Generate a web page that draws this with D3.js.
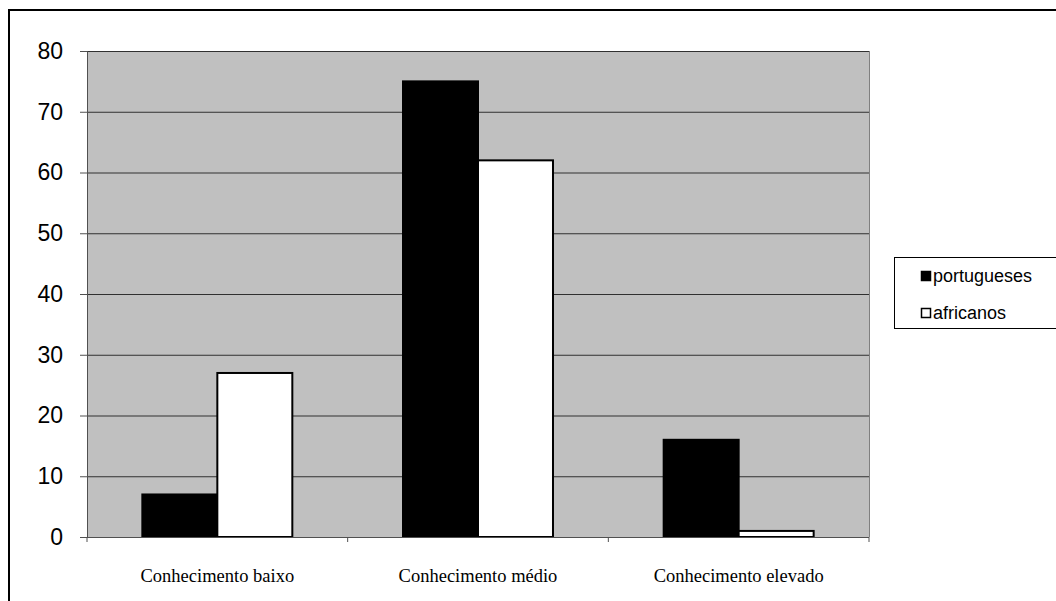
<!DOCTYPE html>
<html lang="pt">
<head>
    <meta charset="UTF-8">
    <title>Conhecimento</title>
    <script src="https://d3js.org/d3.v7.min.js"></script>
    <style>
        body { margin: 0; background: #fff; }
    </style>
</head>
<body>
<script>
    const categories = ['Conhecimento baixo', 'Conhecimento médio', 'Conhecimento elevado'];
    const seriesNames = ['portugueses', 'africanos'];
    const portugueses = [7, 75, 16];
    const africanos = [27, 62, 1];
    const yTicks = [0, 10, 20, 30, 40, 50, 60, 70, 80];

    const width = 1056;
    const height = 601;
    const plot = {left: 87, top: 51, right: 869, bottom: 537};

    const svg = d3.select('body').append('svg')
        .attr('width', width)
        .attr('height', height);

    // outer frame (runs off the right/bottom like the original)
    svg.append('rect')
        .attr('x', 9).attr('y', 10)
        .attr('width', 1060).attr('height', 600)
        .attr('fill', '#fff')
        .attr('stroke', '#000')
        .attr('stroke-width', 2);

    const x = d3.scaleBand()
        .domain(categories)
        .range([plot.left, plot.right])
        .paddingInner(0).paddingOuter(0);

    const xInner = d3.scaleBand()
        .domain(seriesNames)
        .range([0, x.bandwidth()])
        .paddingOuter(0.738);

    const y = d3.scaleLinear()
        .domain([0, 80])
        .range([plot.bottom, plot.top]);

    svg.append('rect')
        .attr('x', plot.left).attr('y', plot.top)
        .attr('width', plot.right - plot.left)
        .attr('height', plot.bottom - plot.top)
        .attr('fill', '#c0c0c0');

    // gridlines
    svg.append('g')
        .selectAll('line')
        .data(yTicks.filter(d => d > 0))
        .enter().append('line')
        .attr('x1', plot.left).attr('x2', plot.right)
        .attr('y1', d => y(d) + 0.5).attr('y2', d => y(d) + 0.5)
        .attr('stroke', '#303030')
        .attr('stroke-width', 1);

    // right edge of plot
    svg.append('line')
        .attr('x1', plot.right + 0.5).attr('x2', plot.right + 0.5)
        .attr('y1', plot.top).attr('y2', plot.bottom)
        .attr('stroke', '#808080');

    const rows = categories.map((c, i) => ({
        cat: c,
        values: [
            {name: 'portugueses', value: portugueses[i]},
            {name: 'africanos', value: africanos[i]}
        ]
    }));

    const groups = svg.append('g')
        .selectAll('g')
        .data(rows)
        .enter().append('g')
        .attr('transform', d => 'translate(' + x(d.cat) + ',0)');

    groups.selectAll('rect')
        .data(d => d.values)
        .enter().append('rect')
        .attr('x', d => xInner(d.name))
        .attr('y', d => y(d.value))
        .attr('width', xInner.bandwidth())
        .attr('height', d => y(0) - y(d.value))
        .attr('fill', d => d.name === 'portugueses' ? '#000' : '#fff')
        .attr('stroke', '#000')
        .attr('stroke-width', 2);

    // y axis
    const yAxis = svg.append('g')
        .attr('transform', 'translate(' + plot.left + ',0)')
        .call(d3.axisLeft(y).tickValues(yTicks).tickSize(7).tickPadding(17));
    yAxis.select('.domain').attr('stroke', '#505050');
    yAxis.selectAll('.tick line').attr('stroke', '#505050');
    yAxis.selectAll('text')
        .attr('font-family', 'Liberation Sans, Arial, sans-serif')
        .attr('font-size', 23)
        .attr('fill', '#000');

    // x axis
    const xAxis = svg.append('g')
        .attr('transform', 'translate(0,' + plot.bottom + ')');
    xAxis.append('line')
        .attr('x1', plot.left).attr('x2', plot.right)
        .attr('y1', 0.5).attr('y2', 0.5)
        .attr('stroke', '#505050');
    xAxis.selectAll('.sep')
        .data(categories.concat([null]))
        .enter().append('line')
        .attr('class', 'sep')
        .attr('x1', d => d === null ? plot.right : x(d))
        .attr('x2', d => d === null ? plot.right : x(d))
        .attr('y1', 0).attr('y2', 5)
        .attr('stroke', '#505050');
    xAxis.selectAll('text')
        .data(categories)
        .enter().append('text')
        .attr('x', d => x(d) + x.bandwidth() / 2)
        .attr('y', 45)
        .attr('text-anchor', 'middle')
        .attr('font-family', 'Liberation Serif, Times New Roman, serif')
        .attr('font-size', 18.5)
        .attr('fill', '#000')
        .text(d => d);

    // legend
    const legend = svg.append('g');
    legend.append('rect')
        .attr('x', 894.5).attr('y', 257.5)
        .attr('width', 170).attr('height', 71)
        .attr('fill', '#fff')
        .attr('stroke', '#000');
    const items = legend.selectAll('g.item')
        .data(seriesNames)
        .enter().append('g')
        .attr('class', 'item')
        .attr('transform', (d, i) => 'translate(921,' + (271 + i * 37) + ')');
    items.append('rect')
        .attr('x', 0.5).attr('y', 0.5)
        .attr('width', 9).attr('height', 9)
        .attr('fill', d => d === 'portugueses' ? '#000' : '#fff')
        .attr('stroke', '#000')
        .attr('stroke-width', 1.5);
    items.append('text')
        .attr('x', 12).attr('y', 11)
        .attr('font-family', 'Liberation Sans, Arial, sans-serif')
        .attr('font-size', 18)
        .attr('fill', '#000')
        .text(d => d);
</script>
</body>
</html>
